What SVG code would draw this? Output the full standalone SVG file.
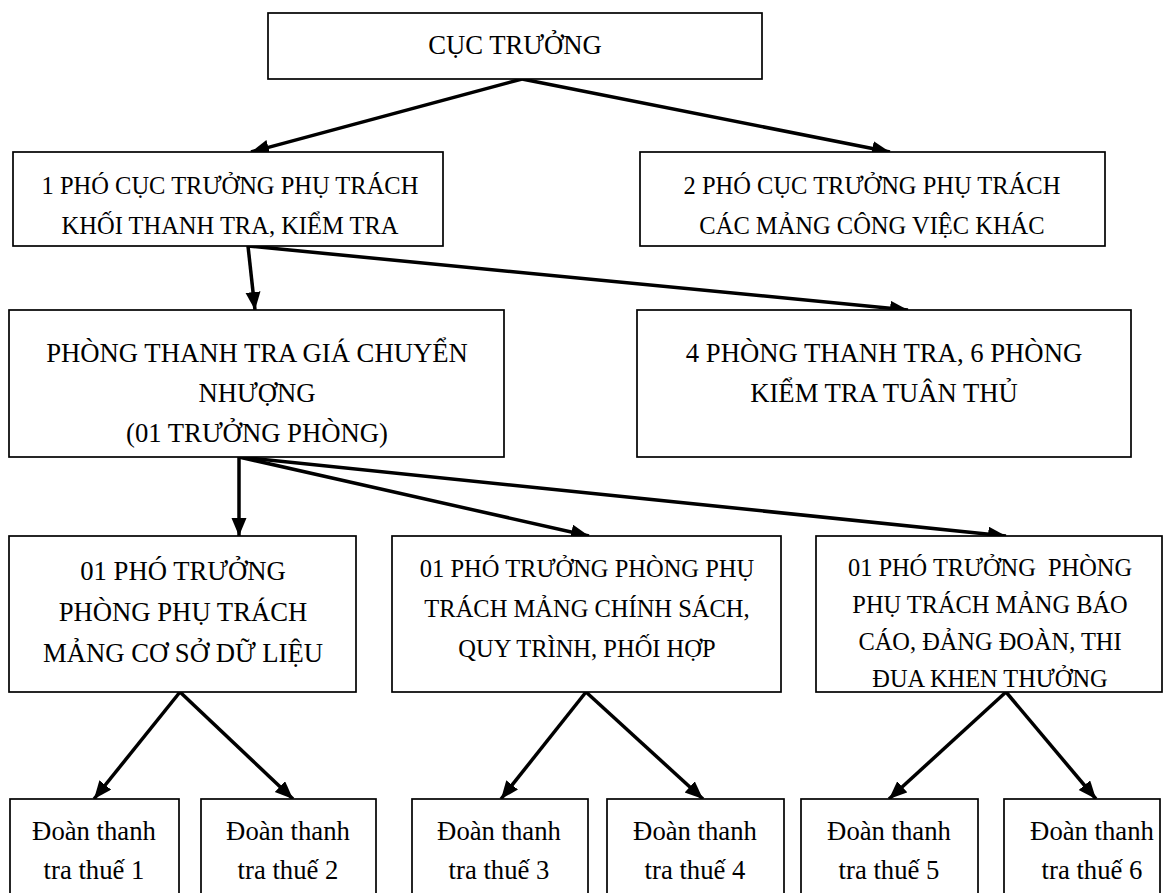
<svg xmlns="http://www.w3.org/2000/svg" width="1171" height="893" viewBox="0 0 1171 893">
<style>
.box{fill:#fff;stroke:#000;stroke-width:1.7}
.t{font-family:"Liberation Serif","Times New Roman",serif;font-size:26.7px;fill:#000;text-anchor:middle}
.b{font-size:24.5px}
.s{font-size:24.5px}
.m{font-size:24.4px}
.c{stroke:#000;stroke-width:3.5;fill:none;marker-end:url(#ah)}
</style>
<defs>
<marker id="ah" markerUnits="userSpaceOnUse" markerWidth="20" markerHeight="16" refX="18" refY="7.5" orient="auto">
<path d="M0,0 L18,7.5 L0,15 z" fill="#000"/>
</marker>
</defs>
<rect width="1171" height="893" fill="#fff"/>
<g id="connectors">
<line class="c" x1="522" y1="79" x2="251" y2="152"/>
<line class="c" x1="522" y1="79" x2="890" y2="152"/>
<line class="c" x1="248" y1="246" x2="255" y2="310"/>
<line class="c" x1="248" y1="246" x2="908" y2="310"/>
<line class="c" x1="239" y1="457" x2="239" y2="536"/>
<line class="c" x1="239" y1="457" x2="589" y2="536"/>
<line class="c" x1="239" y1="457" x2="1006" y2="536"/>
<line class="c" x1="180" y1="692" x2="94" y2="799"/>
<line class="c" x1="180" y1="692" x2="293" y2="799"/>
<line class="c" x1="586" y1="692" x2="501" y2="799"/>
<line class="c" x1="586" y1="692" x2="703" y2="799"/>
<line class="c" x1="1006" y1="692" x2="889" y2="799"/>
<line class="c" x1="1006" y1="692" x2="1096" y2="799"/>
</g>
<g id="cuc-truong">
<rect class="box" x="268" y="13" width="494" height="66"/>
<text class="t" x="515" y="54">CỤC TRƯỞNG</text>
</g>
<g id="pho-cuc-1">
<rect class="box" x="13" y="152" width="430" height="94"/>
<text class="t b" x="230" y="194">1 PHÓ CỤC TRƯỞNG PHỤ TRÁCH</text>
<text class="t b" x="230" y="234">KHỐI THANH TRA, KIỂM TRA</text>
</g>
<g id="pho-cuc-2">
<rect class="box" x="640" y="152" width="465" height="94"/>
<text class="t b" x="872" y="194">2 PHÓ CỤC TRƯỞNG PHỤ TRÁCH</text>
<text class="t b" x="872" y="234">CÁC MẢNG CÔNG VIỆC KHÁC</text>
</g>
<g id="phong-gia">
<rect class="box" x="9" y="310" width="495" height="147"/>
<text class="t" x="257" y="362">PHÒNG THANH TRA GIÁ CHUYỂN</text>
<text class="t" x="257" y="402">NHƯỢNG</text>
<text class="t" x="257" y="442">(01 TRƯỞNG PHÒNG)</text>
</g>
<g id="phong-khac">
<rect class="box" x="637" y="310" width="494" height="147"/>
<text class="t" x="884" y="362">4 PHÒNG THANH TRA, 6 PHÒNG</text>
<text class="t" x="884" y="402">KIỂM TRA TUÂN THỦ</text>
</g>
<g id="pho-phong-1">
<rect class="box" x="9" y="536" width="347" height="156"/>
<text class="t" x="183" y="580">01 PHÓ TRƯỞNG</text>
<text class="t" x="183" y="621">PHÒNG PHỤ TRÁCH</text>
<text class="t" x="183" y="662">MẢNG CƠ SỞ DỮ LIỆU</text>
</g>
<g id="pho-phong-2">
<rect class="box" x="392" y="536" width="389" height="156"/>
<text class="t s" x="587" y="577">01 PHÓ TRƯỞNG PHÒNG PHỤ</text>
<text class="t s" x="587" y="617">TRÁCH MẢNG CHÍNH SÁCH,</text>
<text class="t s" x="587" y="657">QUY TRÌNH, PHỐI HỢP</text>
</g>
<g id="pho-phong-3">
<rect class="box" x="816" y="536" width="346" height="156"/>
<text class="t m" x="990" y="576" xml:space="preserve">01 PHÓ TRƯỞNG  PHÒNG</text>
<text class="t m" x="990" y="613">PHỤ TRÁCH MẢNG BÁO</text>
<text class="t m" x="990" y="650">CÁO, ĐẢNG ĐOÀN, THI</text>
<text class="t m" x="990" y="687">ĐUA KHEN THƯỞNG</text>
</g>
<g id="doan-1">
<rect class="box" x="10" y="799" width="169" height="120"/>
<text class="t" x="94" y="840">Đoàn thanh</text>
<text class="t" x="94" y="879">tra thuế 1</text>
</g>
<g id="doan-2">
<rect class="box" x="201" y="799" width="175" height="120"/>
<text class="t" x="288" y="840">Đoàn thanh</text>
<text class="t" x="288" y="879">tra thuế 2</text>
</g>
<g id="doan-3">
<rect class="box" x="412" y="799" width="176" height="120"/>
<text class="t" x="499" y="840">Đoàn thanh</text>
<text class="t" x="499" y="879">tra thuế 3</text>
</g>
<g id="doan-4">
<rect class="box" x="607" y="799" width="177" height="120"/>
<text class="t" x="695" y="840">Đoàn thanh</text>
<text class="t" x="695" y="879">tra thuế 4</text>
</g>
<g id="doan-5">
<rect class="box" x="801" y="799" width="177" height="120"/>
<text class="t" x="889" y="840">Đoàn thanh</text>
<text class="t" x="889" y="879">tra thuế 5</text>
</g>
<g id="doan-6">
<rect class="box" x="1004" y="799" width="156" height="120"/>
<text class="t" x="1092" y="840">Đoàn thanh</text>
<text class="t" x="1092" y="879">tra thuế 6</text>
</g>
</svg>
